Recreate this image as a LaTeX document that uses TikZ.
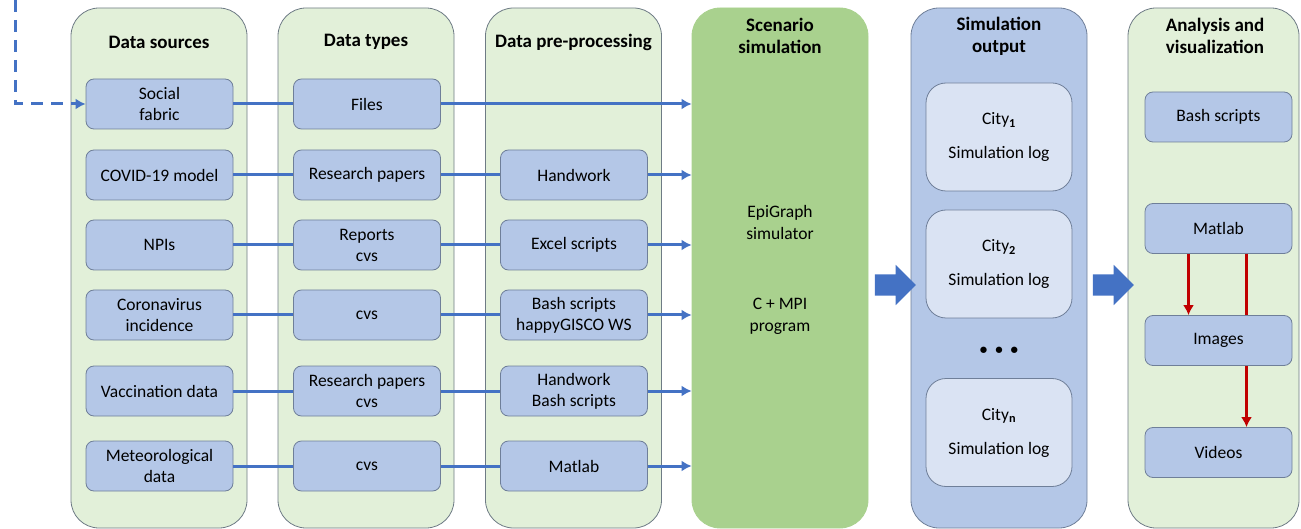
\documentclass[tikz,border=0pt]{standalone}
\usepackage{fontspec}
\setmainfont{Carlito}
\usepackage{xcolor}
\usetikzlibrary{shapes,arrows,positioning,calc,arrows.meta}

\definecolor{lanefill}{HTML}{E2F0D9}
\definecolor{laneline}{HTML}{6E7B85}
\definecolor{scengreen}{HTML}{A9D18E}
\definecolor{boxfill}{HTML}{B4C7E7}
\definecolor{boxline}{HTML}{6F7F99}
\definecolor{cityfill}{HTML}{DAE3F3}
\definecolor{flowblue}{HTML}{4472C4}
\definecolor{redline}{HTML}{C00000}

\tikzset{
    lane/.style={draw=laneline, fill=lanefill, line width=0.8pt, rounded corners=28pt,
        minimum width=176pt, minimum height=520pt},
    coltitle/.style={font=\fontsize{19}{22}\selectfont\bfseries, align=center},
    itembox/.style={draw=boxline, fill=boxfill, line width=0.8pt, rounded corners=8pt,
        minimum width=147pt, minimum height=50pt, align=center,
        font=\fontsize{17.5}{21}\selectfont},
    citybox/.style={itembox, fill=cityfill, rounded corners=20pt,
        minimum width=146pt, minimum height=108pt},
    plain/.style={align=center, font=\fontsize{17.5}{22}\selectfont},
    flow/.style={draw=flowblue, line width=3pt},
    flowarr/.style={flow, -{Latex[length=10pt,width=11pt]}},
    dashflow/.style={flowarr, dash pattern=on 12pt off 8pt},
    redarr/.style={draw=redline, line width=2.5pt, -{Latex[length=10pt,width=11pt]}},
    bigarrow/.style={single arrow, fill=flowblue, inner xsep=0pt, inner ysep=10.5pt,
        minimum height=41pt, single arrow head extend=9.5pt}
}

\begin{document}
\begin{tikzpicture}[x=1pt,y=-1pt]
    \useasboundingbox (0,0) rectangle (1301,529);

    % lanes
    \node[lane] (src) at (159,268) {};
    \node[lane] (typ) at (366,268) {};
    \node[lane] (pre) at (573.5,268) {};
    \node[lane, fill=scengreen, draw=scengreen] (scen) at (780,268) {};
    \node[lane, fill=boxfill, draw=boxline] (out) at (999,268) {};
    \node[lane, minimum width=171pt] (ana) at (1213.5,268) {};

    \node[coltitle] at (159,42) {Data sources};
    \node[coltitle] at (366,42) {Data types};
    \node[coltitle] at (573.5,42) {Data pre-processing};
    \node[coltitle] at (780,36) {Scenario\\simulation};
    \node[coltitle] at (999,36) {Simulation\\output};
    \node[coltitle] at (1215,36) {Analysis and\\visualization};

    % data sources
    \node[itembox] (social) at (159.5,104) {Social\\fabric};
    \node[itembox] (covid) at (159.5,175) {COVID-19 model};
    \node[itembox] (npis) at (159.5,245) {NPIs};
    \node[itembox] (incid) at (159.5,315) {Coronavirus\\incidence};
    \node[itembox] (vacc) at (159.5,391) {Vaccination data};
    \node[itembox] (meteo) at (159.5,466) {Meteorological\\data};

    % data types
    \node[itembox] (files) at (367,104) {Files};
    \node[itembox] (papers) at (367,175) {Research papers};
    \node[itembox] (reports) at (367,245) {Reports\\cvs};
    \node[itembox] (cvsa) at (367,315) {cvs};
    \node[itembox] (paperscvs) at (367,391) {Research papers\\cvs};
    \node[itembox] (cvsb) at (367,466) {cvs};

    % pre-processing
    \node[itembox] (hand) at (574,175) {Handwork};
    \node[itembox] (excel) at (574,245) {Excel scripts};
    \node[itembox] (bash) at (574,315) {Bash scripts\\happyGISCO WS};
    \node[itembox] (handbash) at (574,391) {Handwork\\Bash scripts};
    \node[itembox] (matpre) at (574,466) {Matlab};

    \node[plain] (epi) at (780,222) {EpiGraph\\simulator};
    \node[plain] (mpi) at (780,316) {C + MPI\\program};

    % simulation output
    \node[citybox] (city1) at (999,137) {City\textsubscript{\textbf{1}}\\[13pt]Simulation log};
    \node[citybox] (city2) at (999,264) {City\textsubscript{\textbf{2}}\\[13pt]Simulation log};
    \node[font=\fontsize{15}{18}\selectfont\bfseries] (dots) at (999,351) {\textbullet\hspace{8pt}\textbullet\hspace{8pt}\textbullet};
    \node[citybox] (cityn) at (999,432.5) {City\textsubscript{\textbf{n}}\\[13pt]Simulation log};

    % analysis
    \node[itembox] (bashsc) at (1218.5,117) {Bash scripts};
    \node[itembox] (matlab) at (1218.5,228.5) {Matlab};
    \node[itembox] (videos) at (1218.5,452.5) {Videos};
    \draw[redarr] ([xshift=28pt]matlab.south) -- ([xshift=28pt]videos.north);
    \node[itembox] (images) at (1218.5,340.5) {Images};
    \draw[redarr] ([xshift=-30pt]matlab.south) -- ([xshift=-30pt]images.north);

    \node[bigarrow] (go1) at (890,285) {};
    \node[bigarrow] (go2) at (1108,285) {};

    % flows
    \coordinate (feed) at (15,0);
    \draw[dashflow] (feed) |- (social);

    \draw[flow] (social) -- (files);
    \draw[flowarr] (files) -- (files -| scen.west);

    \draw[flow] (covid) -- (papers);
    \draw[flow] (papers) -- (hand);
    \draw[flowarr] (hand) -- (hand -| scen.west);

    \draw[flow] (npis) -- (reports);
    \draw[flow] (reports) -- (excel);
    \draw[flowarr] (excel) -- (excel -| scen.west);

    \draw[flow] (incid) -- (cvsa);
    \draw[flow] (cvsa) -- (bash);
    \draw[flowarr] (bash) -- (bash -| scen.west);

    \draw[flow] (vacc) -- (paperscvs);
    \draw[flow] (paperscvs) -- (handbash);
    \draw[flowarr] (handbash) -- (handbash -| scen.west);

    \draw[flow] (meteo) -- (cvsb);
    \draw[flow] (cvsb) -- (matpre);
    \draw[flowarr] (matpre) -- (matpre -| scen.west);
\end{tikzpicture}
\end{document}
